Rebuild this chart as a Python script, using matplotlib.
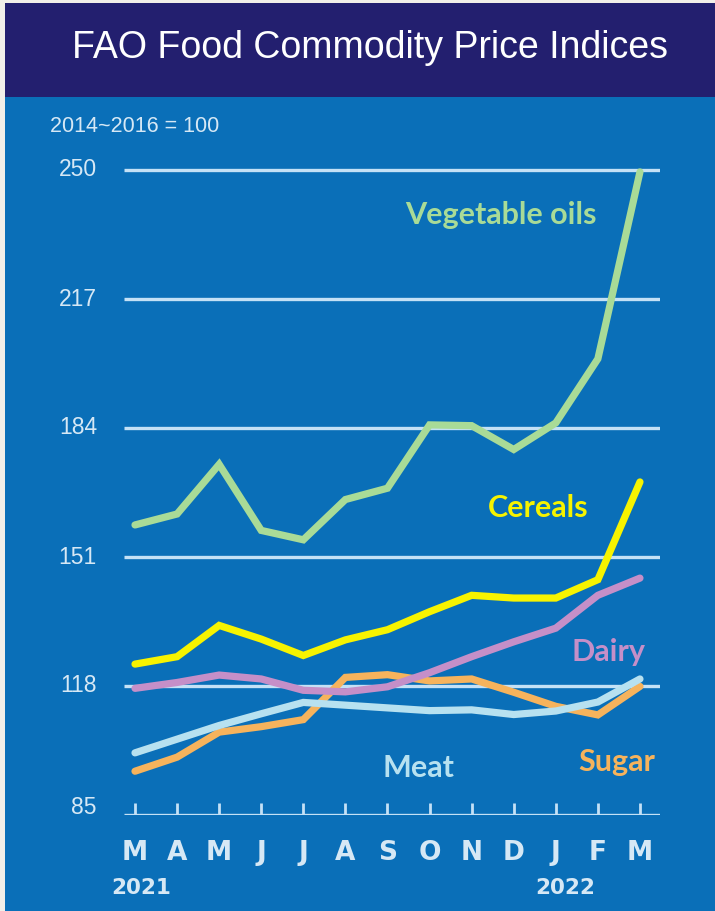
import matplotlib
matplotlib.use("Agg")
import matplotlib.pyplot as plt
from matplotlib.patches import Rectangle

months = ["M", "A", "M", "J", "J", "A", "S", "O", "N", "D", "J", "F", "M"]
yticks = [85, 118, 151, 184, 217, 250]

veg_oils = [159.2, 162.0, 174.7, 157.8, 155.4, 165.7, 168.6, 184.8, 184.6, 178.5, 185.3, 201.7, 249.5]
cereals = [123.6, 125.5, 133.5, 130.0, 125.8, 129.8, 132.4, 137.0, 141.2, 140.5, 140.5, 145.2, 170.2]
dairy = [117.4, 118.9, 120.8, 119.8, 116.9, 116.5, 117.8, 121.4, 125.5, 129.3, 132.8, 141.2, 145.6]
sugar = [96.2, 99.8, 106.2, 107.6, 109.4, 120.2, 120.9, 119.3, 119.8, 116.4, 112.8, 110.6, 117.9]
meat = [100.9, 104.4, 107.9, 110.9, 113.8, 113.1, 112.4, 111.7, 111.9, 110.7, 111.6, 113.9, 119.8]

W, H = 715, 911
fig = plt.figure(figsize=(W / 100, H / 100), dpi=100)
fig.patch.set_facecolor("#f2efe9")

# background panels (figure pixel coords)
bg = fig.add_axes([0, 0, 1, 1])
bg.set_xlim(0, W)
bg.set_ylim(H, 0)
bg.axis("off")
bg.add_patch(Rectangle((5, 3), W - 5, 95, color="#231f6f", lw=0))
bg.add_patch(Rectangle((5, 97), W - 5, H - 97, color="#0a6fb8", lw=0))

txtcol = "#d6e8f5"
sans = ["Liberation Sans", "DejaVu Sans"]
bg.text(370, 48, "FAO Food Commodity Price Indices", color="white",
        fontsize=27, ha="center", va="center", family=sans)
bg.text(50, 127, "2014~2016 = 100", color=txtcol, fontsize=15.5, ha="left", va="center",
        family=sans)

# plot axes
left_px, right_px, top_px, bot_px = 124, 660, 160, 815
x0_px, dx_px = 135, 42.08
ax = fig.add_axes([left_px / W, 1 - bot_px / H, (right_px - left_px) / W, (bot_px - top_px) / H])
ax.set_facecolor("none")
ax.set_xlim((left_px - x0_px) / dx_px, (right_px - x0_px) / dx_px)
y_per_px = 33 / 129.0
ax.set_ylim(85, 250 + (170 - top_px) * y_per_px)
for s in ax.spines.values():
    s.set_visible(False)
ax.set_xticks([])
ax.set_yticks([])

gridcol = "#c4e1f6"
for v in yticks:
    ax.axhline(v, color=gridcol, lw=2.4, zorder=1, solid_capstyle="butt")
xs = list(range(len(months)))
tick_h = 12 * y_per_px
ax.vlines(xs, 85, 85 + tick_h, color=gridcol, lw=2.0, zorder=1)

series = [
    (sugar, "#f6b35c"),
    (meat, "#b7e1f0"),
    (dairy, "#c58fc8"),
    (cereals, "#f7f300"),
    (veg_oils, "#a9db97"),
]
for i, (vals, c) in enumerate(series):
    ax.plot(xs, vals, color=c, lw=5.2, zorder=3 + i, solid_joinstyle="miter",
            solid_capstyle="round")

# y tick labels
for v in yticks:
    ypx = 170 + (250 - v) / y_per_px
    yl = ypx if v != 85 else 808
    bg.text(97, yl, str(v), color=txtcol, fontsize=16.5, ha="right", va="center",
            family=sans)

# month labels
for i, m in enumerate(months):
    bg.text(x0_px + i * dx_px, 853, m, color=txtcol, fontsize=19, ha="center", va="center",
            family=["DejaVu Sans"], weight="bold")
bg.text(141, 888, "2021", color=txtcol, fontsize=15.5, ha="center", va="center",
        family=["DejaVu Sans"], weight="bold")
bg.text(565, 888, "2022", color=txtcol, fontsize=15.5, ha="center", va="center",
        family=["DejaVu Sans"], weight="bold")

# series labels
lab_font = ["Lato", "DejaVu Sans"]
fs = 22
bg.text(501, 215, "Vegetable oils", color="#a9db97", fontsize=fs, ha="center", va="center",
        family=lab_font, weight="bold")
bg.text(538, 508, "Cereals", color="#f7f300", fontsize=fs, ha="center", va="center",
        family=lab_font, weight="bold")
bg.text(609, 652, "Dairy", color="#c58fc8", fontsize=fs, ha="center", va="center",
        family=lab_font, weight="bold")
bg.text(418, 768, "Meat", color="#b7e1f0", fontsize=fs, ha="center", va="center",
        family=lab_font, weight="bold")
bg.text(617, 762, "Sugar", color="#f6b35c", fontsize=fs, ha="center", va="center",
        family=lab_font, weight="bold")

fig.savefig("out.png", dpi=100, facecolor=fig.get_facecolor())
